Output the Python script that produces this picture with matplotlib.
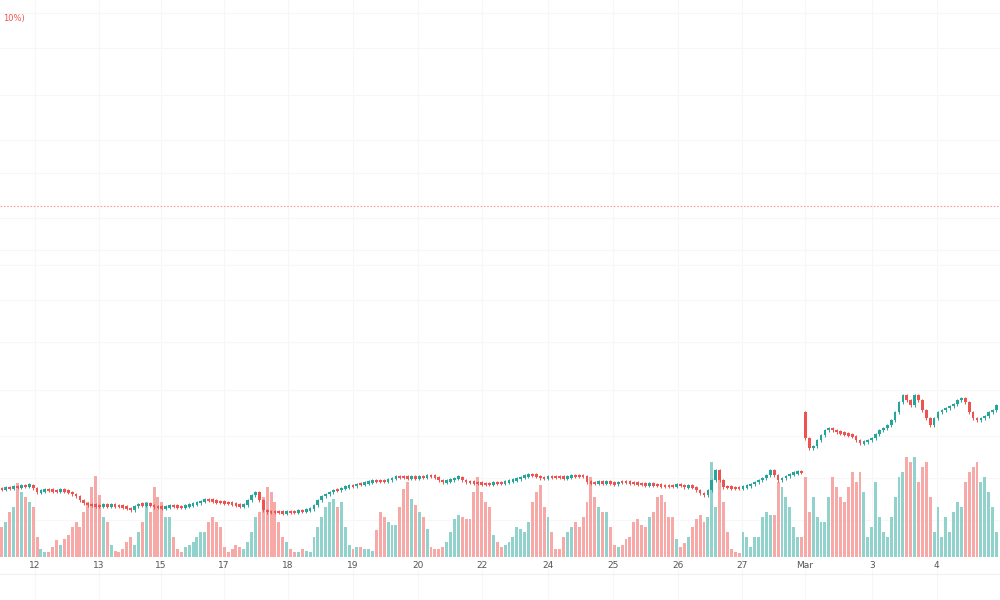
import matplotlib
matplotlib.use("Agg")
import matplotlib.pyplot as plt
import numpy as np

# close levels (screen-like price scale, smaller = higher)
close = [
489,488,488,487,487,486,486,485,488,492,491,490,490,491,491,490,
491,492,494,496,500,503,505,505,506,506,505,506,505,506,506,507,
508,510,506,504,505,504,505,507,507,508,507,506,506,507,507,506,
505,504,503,501,500,500,501,502,502,503,503,504,505,506,505,500,
495,492,500,510,512,512,512,512,513,512,512,512,511,511,510,509,
505,500,496,494,492,490,490,488,487,486,486,484,484,483,482,481,
481,481,481,480,478,477,477,477,478,477,478,477,477,476,476,477,
480,482,481,480,478,477,480,482,482,483,483,484,484,484,483,483,
483,482,481,480,479,477,476,475,475,476,478,478,477,477,477,477,
478,477,476,476,476,476,482,483,483,482,483,482,483,484,482,482,
482,483,483,484,484,485,484,485,485,486,486,486,486,485,485,487,
486,487,490,493,495,490,480,470,480,487,487,488,488,488,487,486,
484,482,480,478,475,470,475,480,478,476,474,473,472,472,438,448,
446,440,435,430,428,430,432,433,434,435,436,440,443,442,440,438,
434,430,428,425,420,412,402,395,400,405,395,400,410,418,425,418,
412,410,408,406,404,400,398,402,412,418,420,418,416,412,410,405,
]
gap_open = {206: 412}

volume = [
30,35,45,50,74,65,60,55,50,20,8,5,5,10,17,12,
18,22,30,35,30,45,55,70,81,62,40,35,12,6,5,8,
15,20,12,25,35,55,45,70,60,55,40,40,20,8,5,10,
12,15,20,25,25,35,40,35,30,10,5,8,12,10,8,15,
25,40,45,60,70,65,55,35,20,15,8,5,5,8,6,5,
20,30,40,50,55,58,50,55,30,12,8,10,10,8,8,6,
27,45,40,35,32,32,50,68,75,58,52,45,40,28,10,8,
8,10,15,25,38,42,40,38,38,65,80,65,55,50,22,15,
10,12,15,20,30,28,25,35,55,65,72,50,40,25,8,8,
20,25,30,35,30,40,55,80,60,50,45,45,30,12,10,12,
18,20,35,38,32,30,40,45,60,62,55,40,40,18,10,14,
20,30,38,42,35,40,95,50,80,55,25,8,5,4,25,20,
10,20,20,40,45,42,42,75,70,60,50,30,20,20,80,45,
60,40,35,35,60,80,70,60,55,70,85,75,85,65,20,30,
75,40,25,20,40,60,80,85,100,95,100,75,90,95,60,25,
50,20,40,25,45,55,50,75,85,90,95,75,80,65,50,25,
]

tick_labels = ["12","13","15","17","18","19","20","22","24","25","26","27","Mar","3","4"]
tick_pos = [8.5, 24.9, 40.8, 56.9, 73.3, 90.0, 106.7, 123.1, 139.9, 156.7, 173.3, 189.7, 205.9, 223.1, 239.7]

UP, DN = "#26a69a", "#ef5350"
VUP, VDN = "#92d2cc", "#f7a9a7"

fig = plt.figure(figsize=(10, 6), dpi=100)
ax = fig.add_axes([0, 0, 1, 1])
ax.set_xlim(-0.5, 255.9)
ax.set_ylim(600, 0)
ax.axis("off")

# grid
for gy in [13, 48, 95, 140, 173, 218, 250, 265, 300, 342, 390, 436, 478, 520]:
    ax.axhline(gy, color="#f7f7f7", lw=0.8, zorder=0)
for tp in tick_pos:
    ax.axvline(tp, color="#f7f7f7", lw=0.8, zorder=0)
ax.axhline(206, color="#f5a0a0", lw=0.8, ls=(0, (1.5, 1.5)), zorder=1)
ax.axhline(574, color="#f0f0f0", lw=0.8)

n = len(close)
idx = np.arange(n)
opens = [close[0]] + close[:-1]
for k, v in gap_open.items():
    opens[k] = v
opens = np.array(opens, float)
cl = np.array(close, float)
up = cl < opens  # smaller pixel value = higher price

vol = np.array(volume, float)
ax.bar(idx, -vol, bottom=557, width=0.75, color=[VUP if u else VDN for u in up], zorder=2)

for i in range(n):
    c = UP if up[i] else DN
    lo, hi = min(opens[i], cl[i]), max(opens[i], cl[i])
    if hi - lo < 1.2:
        lo -= 0.6; hi += 0.6
    ax.vlines(i, lo - 1.5, hi + 1.5, color=c, lw=0.7, zorder=3)
    ax.bar(i, hi - lo, bottom=lo, width=0.7, color=c, zorder=4)

for tp, lab in zip(tick_pos, tick_labels):
    ax.text(tp, 565, lab, ha="center", va="center", fontsize=6.5, color="#555555")
ax.text(0.2, 19, "10%)", ha="left", va="center", fontsize=6, color="#ef5350")

fig.savefig("out.png", dpi=100)
